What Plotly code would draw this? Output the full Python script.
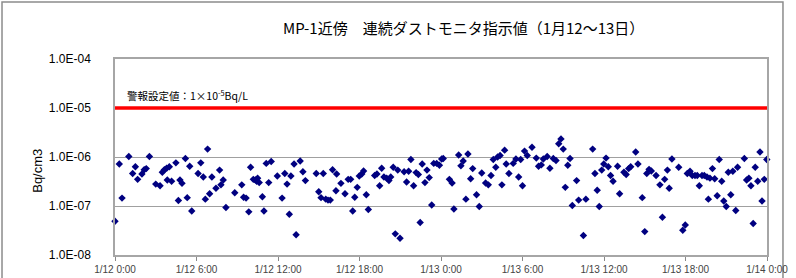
import pandas as pd
import plotly.graph_objects as go

# ---- data ----
start_time = "2012-01-12 00:00"
end_time = "2012-01-14 00:00"

minutes = [0, 19, 31, 61, 78, 90, 100, 119, 129, 138, 152, 180, 199, 209, 218, 228, 231, 240, 250, 269,
           280, 287, 296, 311, 319, 330, 339, 367, 379, 390, 399, 409, 418, 428, 446, 462, 468,
           478, 490, 529, 560, 568, 579, 591, 599, 611, 620, 626, 630, 637, 651, 658, 668, 679, 690,
           717, 738, 750, 760, 770, 777, 791, 800, 818, 830, 841, 889, 900, 910, 920, 931, 941, 951, 961,
           976, 979, 998, 1016, 1030, 1041, 1050, 1059, 1070, 1079, 1090, 1098, 1110, 1119, 1147, 1157,
           1169, 1178, 1188, 1200, 1210, 1218, 1229, 1238, 1249, 1259, 1277, 1288, 1297, 1307, 1319, 1330,
           1340, 1348, 1357, 1369, 1378, 1388, 1399, 1408, 1421, 1433, 1443,
           1450, 1477, 1489, 1497, 1518, 1528, 1538, 1550, 1559, 1571, 1580, 1597, 1609, 1620, 1637, 1649,
           1661, 1671, 1682, 1690, 1701, 1709, 1721, 1728, 1740, 1759, 1771, 1783, 1792, 1800, 1809, 1821,
           1842, 1861, 1871, 1883, 1892, 1909, 1921,
           1936, 1948, 1960, 1970, 1980, 1989, 2000, 2010, 2020, 2039, 2048, 2069, 2080, 2110, 2120, 2130,
           2139, 2150, 2159, 2169, 2179, 2189, 2200, 2220, 2229, 2248, 2258, 2269, 2278, 2300, 2310, 2329,
           2340, 2349, 2359, 2369, 2390, 2407, 2418,
           2428, 2440, 2448, 2460, 2490, 2508, 2519, 2528, 2540, 2550, 2562, 2572, 2581, 2593, 2603, 2615,
           2621, 2628, 2639, 2649, 2660, 2669, 2680, 2689, 2700, 2709, 2720, 2729, 2742, 2750, 2780, 2790,
           2800, 2809, 2819, 2828, 2839, 2849, 2858, 2868, 2879]

values = [4.9e-8, 7.2e-7, 1.45e-7, 1.02e-6, 4.6e-7, 6.3e-7, 3.5e-7, 4.5e-7, 5.5e-7, 5.8e-7, 1.02e-6,
          2.8e-7, 2.6e-7, 4.9e-7, 5.5e-7, 5.9e-7, 3.4e-7, 6.3e-7, 3.2e-7, 7.6e-7, 1.3e-7, 3.4e-7, 2.9e-7,
          9.3e-7, 1.48e-7, 6.5e-7, 7.9e-8, 4.6e-7, 7.6e-7, 3.9e-7, 1.38e-7, 1.45e-6, 1.78e-7, 3.9e-7,
          2.3e-7, 5.4e-7, 2.7e-7,
          3.4e-7, 9.3e-8, 1.86e-7, 2.7e-7, 1.51e-7, 1.45e-7, 7.6e-8, 6.2e-7, 3.5e-7, 3.4e-7, 3.2e-7,
          3.7e-7, 3.0e-7, 1.55e-7, 7.9e-8, 7.4e-7, 3.0e-7, 8.1e-7, 4.1e-7, 1.45e-7, 4.6e-7, 2.8e-7,
          6.8e-8, 4.1e-7, 7.2e-7, 2.6e-8, 8.3e-7, 5.0e-7, 3.3e-7, 4.6e-7, 1.95e-7, 1.48e-7, 4.6e-7,
          1.38e-7, 1.32e-7, 1.32e-7, 5.5e-7,
          2.04e-7, 4.5e-7, 2.9e-7, 1.78e-7, 3.5e-7, 3.5e-7, 7.9e-8, 1.51e-7, 2.4e-7, 4.1e-7, 4.5e-7,
          5.2e-7, 1.70e-7, 8.5e-8, 4.2e-7, 4.5e-7, 2.6e-7, 5.9e-7, 3.9e-7, 3.7e-7, 3.3e-7, 3.9e-7,
          6.2e-7, 2.7e-8, 5.4e-7, 2.2e-8, 5.0e-7, 3.1e-7, 5.1e-7, 8.9e-7, 2.6e-7, 4.8e-7, 4.4e-7,
          4.6e-8, 7.2e-7, 3.0e-7, 5.4e-7, 3.8e-7, 1.05e-7, 7.4e-7, 7.4e-7, 6.8e-7, 9.1e-7,
          9.3e-7, 3.5e-7, 2.95e-7, 8.7e-8, 1.10e-6, 6.6e-7, 8.3e-7, 1.38e-7, 1.15e-6, 3.6e-7, 5.8e-7,
          1.70e-7, 9.8e-8, 4.7e-7, 2.95e-7, 2.7e-7, 4.2e-7, 8.9e-7, 6.2e-7, 1.0e-6, 1.07e-6, 2.7e-7,
          1.38e-6, 7.2e-7, 4.6e-7, 7.4e-7, 9.1e-7, 3.9e-7, 8.9e-7, 2.6e-7, 1.32e-6, 1.07e-6, 1.58e-6,
          9.5e-7, 6.5e-7, 6.9e-7, 9.1e-7, 1.02e-6, 5.9e-7,
          9.3e-7, 8.5e-7, 1.86e-6, 2.34e-6, 1.45e-6, 2.4e-7, 6.8e-7, 9.3e-7, 1.02e-7, 3.3e-7, 1.32e-7,
          2.5e-8, 1.38e-7, 1.45e-6, 4.6e-7, 2.1e-7, 9.8e-8, 5.4e-7, 7.2e-7, 9.5e-7, 6.3e-7, 4.2e-7,
          3.2e-7, 6.5e-7, 1.78e-7, 4.9e-7, 4.4e-7, 5.8e-7, 6.3e-7, 1.26e-6, 7.2e-7, 1.48e-7, 3.0e-8,
          4.6e-7, 5.6e-7, 5.2e-7, 4.2e-7, 2.7e-7, 5.9e-8,
          3.5e-7, 5.4e-7, 2.3e-7, 9.1e-7, 6.2e-7, 3.2e-8, 4.1e-8, 4.6e-7, 5.1e-7, 4.2e-7, 4.2e-7,
          4.2e-7, 2.6e-7, 4.2e-7, 4.2e-7, 3.9e-7, 1.38e-7, 3.7e-7, 5.8e-7, 3.6e-7, 1.62e-7, 8.9e-7,
          3.2e-7, 1.26e-7, 9.8e-8, 4.9e-7, 1.70e-7, 5.1e-7, 8.1e-8, 6.2e-7, 9.3e-7, 3.4e-7, 3.7e-7,
          2.6e-7, 4.4e-8, 6.2e-7, 3.2e-7, 1.26e-6, 1.26e-7, 3.5e-7, 8.9e-7]

alarm_level = 1e-5
y_tick_vals = [1e-8, 1e-7, 1e-6, 1e-5, 1e-4]
y_tick_text = ["1.0E-08", "1.0E-07", "1.0E-06", "1.0E-05", "1.0E-04"]

title_text = "MP-1近傍　連続ダストモニタ指示値（1月12～13日）"
alarm_text = "警報設定値：1×10<sup>-5</sup>Bq/L"
y_title = "Bq/cm3"

times = pd.Timestamp(start_time) + pd.to_timedelta(minutes, unit="min")

fig = go.Figure()
fig.add_trace(go.Scatter(
    x=[start_time, end_time], y=[alarm_level, alarm_level],
    mode="lines", line=dict(color="#ff0000", width=3.5),
    hoverinfo="skip", showlegend=False, cliponaxis=False))
fig.add_trace(go.Scatter(
    x=times, y=values, mode="markers",
    marker=dict(symbol="diamond", size=5.7, color="#000080", line=dict(width=0)),
    showlegend=False, cliponaxis=False))

JP = "Noto Sans CJK JP"
fig.update_layout(
    width=796, height=278,
    margin=dict(l=115, r=29, t=59, b=23),
    paper_bgcolor="white", plot_bgcolor="white",
    font=dict(family="Liberation Sans, Arial, sans-serif", color="#000000"),
    xaxis=dict(
        type="date", range=[start_time, end_time], automargin=False,
        dtick=6 * 3600 * 1000, tick0=start_time,
        tickformat="%-m/%-d %-H:%M",
        ticks="outside", ticklen=4, tickcolor="#888888", tickwidth=1,
        tickfont=dict(size=10, color="#444444", family="Liberation Sans, Arial"),
        showgrid=False, showline=True, linecolor="#a6a6a6", linewidth=1.5,
        mirror=True, zeroline=False,
    ),
    yaxis=dict(
        type="log", range=[-8, -4], automargin=False,
        tickvals=y_tick_vals, ticktext=y_tick_text,
        tickfont=dict(size=12, color="#000000"),
        ticks="", ticklabelstandoff=20,
        showgrid=True, gridcolor="#a0a0a0", gridwidth=1,
        showline=True, linecolor="#a6a6a6", linewidth=1.5, mirror=True,
        zeroline=False,
    ),
    annotations=[
        dict(text=title_text, x=0.535, y=1.163, xref="paper", yref="paper",
             showarrow=False, xanchor="center", yanchor="middle",
             font=dict(family=JP, size=15, color="#000000")),
        dict(text=alarm_text, x=0.0153, y=0.816, xref="paper", yref="paper",
             showarrow=False, xanchor="left", yanchor="middle",
             font=dict(family=JP, size=10.5, color="#000000")),
        dict(text=y_title, x=-0.118, y=0.43, xref="paper", yref="paper",
             showarrow=False, xanchor="center", yanchor="middle", textangle=-90,
             font=dict(family="Liberation Sans, Arial", size=13, color="#000000")),
    ],
    shapes=[
        dict(type="rect", xref="paper", yref="paper",
             x0=-0.1733, x1=1.0245, y0=-0.2, y1=1.2908,
             line=dict(color="#8c8c8c", width=1.5), fillcolor="rgba(0,0,0,0)", layer="below"),
    ],
)

fig.write_html("out.html", config={"displayModeBar": False},
               post_script="document.body.style.margin='0';")
